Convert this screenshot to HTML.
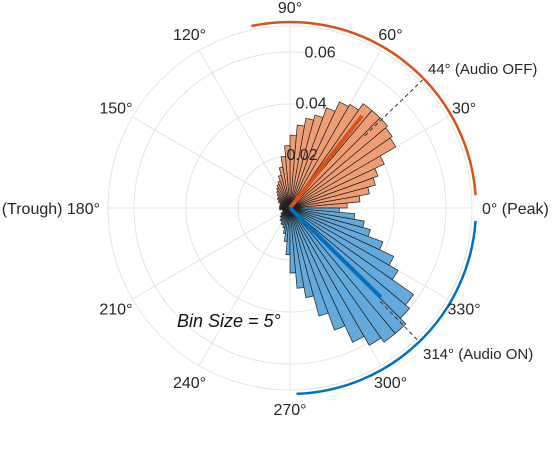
<!DOCTYPE html>
<html><head><meta charset="utf-8"><style>
body{margin:0;background:#fff;}
svg{display:block;font-family:"Liberation Sans",Arial,sans-serif;}
</style></head><body>
<svg id="chart" width="558" height="450" viewBox="0 0 558 450"></svg>
<script>
// data: bin start angles (deg) and probabilities, bin size 5
const binStarts = Array.from({length:72},(_,i)=>i*5);
const offValues = [0.022,0.027,0.031,0.034,0.036,0.040,0.047,0.048,0.049,0.049,0.049,0.046,0.045,0.041,0.037,0.035,0.032,0.028,0.024,0.020,0.016,0.013,0.011,0.010,0.009,0.008,0.007,0.006,0.006,0.005,0.005,0.004,0.004,0.004,0.004,0.004,0.004,0.004,0.003,0.003,0.003,0.003,0.003,0.003,0.003,0.003,0.003,0.003,0.003,0.003,0.003,0.003,0.003,0.003,0.003,0.003,0.003,0.003,0.003,0.003,0.003,0.003,0.003,0.003,0.003,0.004,0.004,0.005,0.006,0.007,0.009,0.014];
const onValues = [0.004,0.003,0.003,0.002,0.002,0.002,0.002,0.002,0.002,0.002,0.002,0.002,0.002,0.002,0.002,0.002,0.002,0.002,0.002,0.002,0.002,0.002,0.002,0.002,0.002,0.002,0.002,0.002,0.002,0.002,0.002,0.002,0.002,0.002,0.002,0.002,0.002,0.003,0.003,0.003,0.003,0.003,0.004,0.004,0.005,0.005,0.006,0.006,0.007,0.007,0.008,0.010,0.013,0.018,0.025,0.031,0.035,0.043,0.050,0.057,0.061,0.063,0.063,0.060,0.058,0.048,0.044,0.038,0.032,0.029,0.025,0.019];
const radialTicks = [0.02,0.04,0.06];
const angleTicks = [0,30,60,90,120,150,180,210,240,270,300,330];
const angleLabels = ["0° (Peak)","30°","60°","90°","120°","150°","(Trough) 180°","210°","240°","270°","300°","330°"];
const offMean = [52,0.045], onMean = [315.5,0.049];
const offMarker = 44, onMarker = 314;

const cx=290, cy=208, rMax=0.07, R=182;
const ns="http://www.w3.org/2000/svg";
const svg=document.getElementById('chart');
const rs=v=>v/rMax*R;
const pt=(a,r)=>[cx+r*Math.cos(a*Math.PI/180), cy-r*Math.sin(a*Math.PI/180)];
function mk(t,at,parent){const e=document.createElementNS(ns,t);for(const k in at)e.setAttribute(k,at[k]);(parent||svg).appendChild(e);return e;}

// grid
[...radialTicks,rMax].forEach(v=>{
  const c=mk('circle',{cx,cy,r:rs(v),fill:'none',stroke:'#e3e3e3','stroke-width':1});
  
  
});
angleTicks.forEach(a=>{
  const [x,y]=pt(a,R);
  const l=mk('line',{x1:cx,y1:cy,x2:x,y2:y,stroke:'#e3e3e3','stroke-width':1});
  
  
});
// bars
function bars(vals,fill,name){
  binStarts.forEach((s,i)=>{
    const r=rs(vals[i]);
    const [x1,y1]=pt(s,r),[x2,y2]=pt(s+5,r);
    const p=mk('path',{d:`M${cx},${cy}L${x1},${y1}A${r},${r} 0 0 0 ${x2},${y2}Z`,fill,stroke:'#222','stroke-width':0.7});
    
    
  });
}
bars(offValues,'#ee9d74','audio-off-bar');
bars(onValues,'#64a9dc','audio-on-bar');
// radial tick labels (on top)
radialTicks.forEach(v=>{
  const [x,y]=pt(80,rs(v));
  const t=mk('text',{x:x+3,y:y+3,'font-size':16,fill:'#262626','text-anchor':'middle'});
  t.textContent=v.toFixed(2);
  
  
});
// dashed markers
function dashed(a,r0,name){
  const [x1,y1]=pt(a,rs(r0)),[x2,y2]=pt(a,R+2);
  const l=mk('line',{x1,y1,x2,y2,stroke:'#333','stroke-width':1,'stroke-dasharray':'4,3'});
  
  
}
dashed(offMarker,0.04,'audio-off-marker');
dashed(onMarker,0.05,'audio-on-marker');
// mean vectors
function mean(m,col,name){
  const [x,y]=pt(m[0],rs(m[1]));
  const l=mk('line',{x1:cx,y1:cy,x2:x,y2:y,stroke:col,'stroke-width':4});
  
  
}
mean(offMean,'#d95319','audio-off-mean-vector');
mean(onMean,'#0072bd','audio-on-mean-vector');
// arcs
function arc(a1,a2,col,name){
  const r=R+4;const [x1,y1]=pt(a1,r),[x2,y2]=pt(a2,r);
  const p=mk('path',{d:`M${x1},${y1}A${r},${r} 0 0 1 ${x2},${y2}`,fill:'none',stroke:col,'stroke-width':2.5});
  
  
}
arc(102,4,'#d95319','audio-off-range-arc');
arc(-4,-88,'#0072bd','audio-on-range-arc');
// angle labels
angleTicks.forEach((a,i)=>{
  let [x,y]=pt(a,R+19);
  let anchor='middle';
  if(a===0){anchor='start';x=cx+192;}
  if(a===180){anchor='end';x=cx-190;}
  const t=mk('text',{x,y:y+6,'font-size':16,fill:'#262626','text-anchor':anchor});
  t.textContent=angleLabels[i];
  
  
});
let t=mk('text',{x:428,y:74,'font-size':15,fill:'#262626'});t.textContent='44° (Audio OFF)';


t=mk('text',{x:423,y:359,'font-size':15,fill:'#262626'});t.textContent='314° (Audio ON)';


t=mk('text',{x:177,y:327,'font-size':18,'font-style':'italic',fill:'#111'});t.textContent='Bin Size = 5°';


</script>
</body></html>
